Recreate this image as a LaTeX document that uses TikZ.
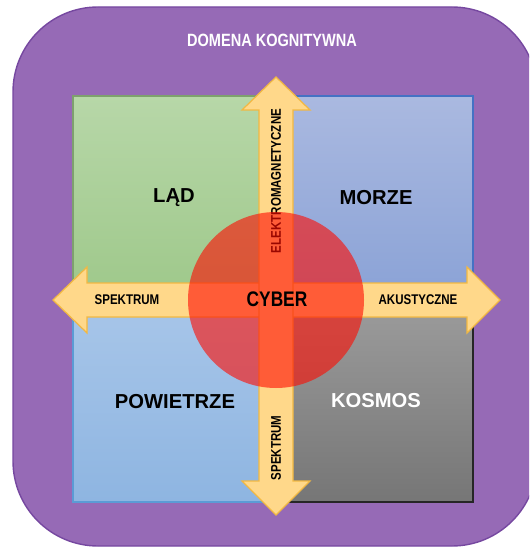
\documentclass[tikz,border=0pt]{standalone}
\usepackage{fontspec}
\setmainfont{Liberation Sans}
\newfontfamily\narrowfont[FakeStretch=0.82]{Liberation Sans}
\usetikzlibrary{positioning, calc}
\definecolor{domenapurple}{RGB}{150,106,182}
\definecolor{domenaedge}{RGB}{118,72,160}
\definecolor{ladtop}{RGB}{183,215,168}
\definecolor{ladbot}{RGB}{158,200,138}
\definecolor{morzetop}{RGB}{170,185,224}
\definecolor{morzebot}{RGB}{138,162,214}
\definecolor{powtop}{RGB}{168,198,233}
\definecolor{powbot}{RGB}{142,181,225}
\definecolor{kostop}{RGB}{156,156,156}
\definecolor{kosbot}{RGB}{118,118,118}
\definecolor{arrowfill}{RGB}{255,216,138}
\definecolor{arrowedge}{RGB}{242,184,66}
\definecolor{cyberred}{RGB}{255,10,0}
\tikzset{
  quad/.style={line width=0.6pt},
  domainlabel/.style={font=\bfseries\fontsize{11.5}{13}\selectfont},
  spectrum/.style={font=\narrowfont\bfseries\fontsize{8}{9}\selectfont, inner sep=0pt},
  arrowbody/.style={fill=arrowfill, draw=arrowedge, line width=0.7pt, line join=miter}
}

\begin{document}
\begin{tikzpicture}[x=0.02cm, y=-0.02cm]
\useasboundingbox (0,0) rectangle (529,547);
\clip (0,0) rectangle (529,547);

% Cognitive domain
\draw[fill=domenapurple, draw=domenaedge, line width=0.8pt, rounded corners=1.7cm]
  (13,7) rectangle (537,546);
\node[font=\narrowfont\bfseries\fontsize{10.1}{12}\selectfont, text=white] (kogn) at (272,40) {DOMENA KOGNITYWNA};

% Four domains
\shade[top color=ladtop, bottom color=ladbot] (73,96) rectangle (276,300);
\shade[top color=morzetop, bottom color=morzebot] (276,96) rectangle (473,300);
\shade[top color=powtop, bottom color=powbot] (73,300) rectangle (276,502);
\shade[top color=kostop, bottom color=kosbot] (276,300) rectangle (473,502);
\draw[quad, draw=ladbot!80!black] (73,300) -- (73,96) -- (276,96);
\draw[quad, draw={rgb,255:red,68;green,114;blue,196}] (276,96) -- (473,96) -- (473,300);
\draw[quad, draw={rgb,255:red,91;green,155;blue,213}] (73,300) -- (73,502) -- (276,502);
\draw[quad, draw=black!85] (276,502) -- (473,502) -- (473,300);

\node[domainlabel] (lad) at (174,198) {LĄD};
\node[domainlabel] (morze) at (376,198) {MORZE};
\node[domainlabel] (powietrze) at (175,402) {POWIETRZE};
\node[domainlabel, text=white] (kosmos) at (376,401) {KOSMOS};

% Horizontal arrow
\draw[arrowbody] (53,300) -- (87,267) -- (87,283) -- (467,283) -- (467,267)
  -- (500,300) -- (467,333) -- (467,317) -- (87,317) -- (87,333) -- cycle;
% Vertical arrow
\draw[arrowbody] (276,77) -- (310,110) -- (293,110) -- (293,481) -- (310,481)
  -- (276,515) -- (242,481) -- (259,481) -- (259,110) -- (242,110) -- cycle;

\node[spectrum] (spektrum) at (127,300) {SPEKTRUM};
\node[spectrum] (akustyczne) at (418,300) {AKUSTYCZNE};
\node[spectrum, rotate=90] (elektro) at (276,181) {ELEKTROMAGNETYCZNE};
\node[spectrum, rotate=90] (spektrumdol) at (276,448) {SPEKTRUM};

% Cyber domain
\fill[cyberred, fill opacity=0.6] (276,300) circle (88);
\node[font=\narrowfont\bfseries\fontsize{12}{14}\selectfont] (cyber) at (277,299) {CYBER};
\end{tikzpicture}
\end{document}
